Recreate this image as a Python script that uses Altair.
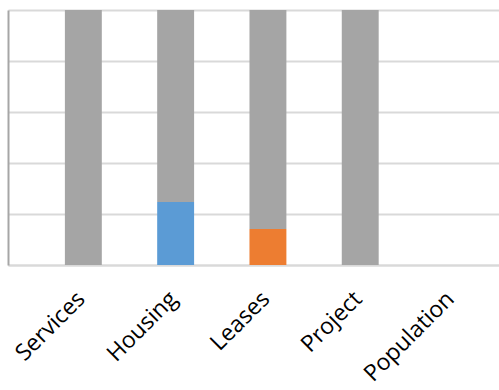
import altair as alt
import pandas as pd

categories = ["Services", "Housing", "Leases", "Project", "Population"]
series_names = ["Series1", "Series2", "Series3"]
series1 = [0, 24.7, 0, 0, 0]
series2 = [0, 0, 14.1, 0, 0]
series3 = [100, 75.3, 85.9, 100, 0]
colors = ["#5B9BD5", "#ED7D31", "#A5A5A5"]
y_ticks = [0, 20, 40, 60, 80, 100]

rows = []
for si, (name, vals) in enumerate(zip(series_names, [series1, series2, series3])):
    for c, v in zip(categories, vals):
        rows.append({"category": c, "series": name, "value": v, "order": si})
df = pd.DataFrame(rows)

chart = alt.Chart(df).mark_bar().encode(
    x=alt.X("category:N", sort=categories,
            scale=alt.Scale(paddingInner=0.6, paddingOuter=0.46, align=0.67),
            axis=alt.Axis(title=None, labelAngle=-45, labelFont="Open Sans",
                          labelFontSize=23, labelColor="#000000", ticks=False,
                          labelPadding=30, labelOffset=-2, domainColor="#D9D9D9", domainWidth=2,
                          labelAlign="right", labelBaseline="middle")),
    y=alt.Y("value:Q", stack="zero",
            scale=alt.Scale(domain=[0, 100], nice=False),
            axis=alt.Axis(title=None, values=y_ticks, labels=False, ticks=False,
                          domainColor="#A6A6A6", domainWidth=2,
                          gridColor="#D9D9D9", gridWidth=2)),
    color=alt.Color("series:N", scale=alt.Scale(domain=series_names, range=colors), legend=None),
    order=alt.Order("order:Q"),
).properties(
    width=491, height=255,
    padding={"left": 8, "top": 10, "right": 0, "bottom": 125},
    autosize=alt.AutoSizeParams(type="none"),
).configure_view(stroke=None)

chart.save("out.html", embed_options={"renderer": "svg", "actions": False})
